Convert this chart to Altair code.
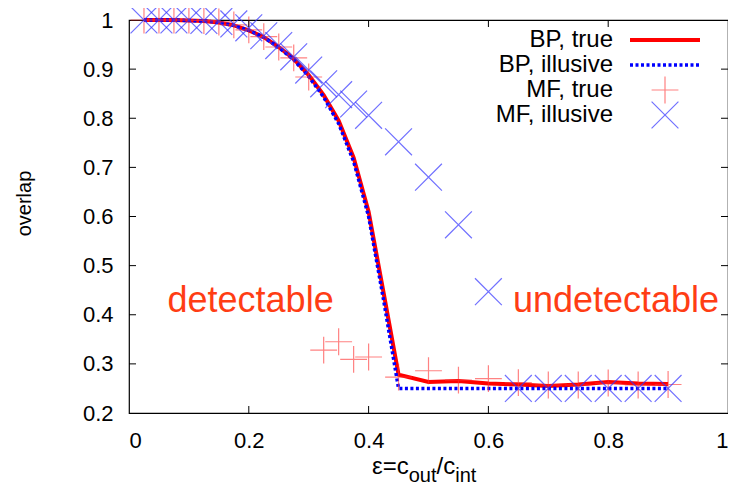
import altair as alt
import pandas as pd

# ---- data ----
bp_eps = [0.025, 0.05, 0.075, 0.1, 0.125, 0.15, 0.175, 0.2, 0.225, 0.25, 0.275, 0.3,
          0.325, 0.35, 0.375, 0.4, 0.425, 0.45, 0.5, 0.55, 0.6, 0.65, 0.7, 0.75,
          0.8, 0.85, 0.9]
bp_true = [1.0, 1.0, 1.0, 0.999, 0.998, 0.995, 0.989, 0.979, 0.965, 0.945, 0.921, 0.888,
           0.847, 0.795, 0.72, 0.61, 0.445, 0.278, 0.263, 0.265, 0.26, 0.258, 0.255, 0.258,
           0.263, 0.26, 0.259]
bp_illusive = [1.0, 1.0, 1.0, 0.999, 0.998, 0.995, 0.989, 0.979, 0.965, 0.944, 0.919, 0.885,
               0.843, 0.789, 0.712, 0.60, 0.43, 0.25, 0.25, 0.25, 0.25, 0.25, 0.25, 0.25,
               0.25, 0.25, 0.25]

mf_true_eps = [0.025, 0.05, 0.075, 0.1, 0.125, 0.15, 0.175, 0.2, 0.225, 0.25, 0.275, 0.3,
               0.325, 0.35, 0.375, 0.4, 0.45, 0.5, 0.55, 0.6, 0.65, 0.7, 0.75, 0.8, 0.85, 0.9]
mf_true = [1.0, 1.0, 1.0, 1.0, 0.999, 0.996, 0.99, 0.98, 0.966, 0.945, 0.923, 0.884,
           0.328, 0.345, 0.309, 0.314, 0.273, 0.286, 0.267, 0.27, 0.262, 0.257, 0.257,
           0.261, 0.257, 0.258]

mf_ill_eps = [0.025, 0.05, 0.075, 0.1, 0.125, 0.15, 0.175, 0.2, 0.225, 0.25, 0.275, 0.3,
              0.325, 0.35, 0.375, 0.4, 0.45, 0.5, 0.55, 0.6, 0.65, 0.7, 0.75, 0.8, 0.85, 0.9]
mf_illusive = [1.0, 1.0, 1.0, 1.0, 0.999, 0.997, 0.992, 0.984, 0.968, 0.948, 0.925, 0.898,
               0.870, 0.848, 0.829, 0.806, 0.752, 0.68, 0.583, 0.447, 0.25, 0.25, 0.25,
               0.25, 0.25, 0.25]

x_ticks = [0, 0.2, 0.4, 0.6, 0.8, 1]
y_ticks = [0.2, 0.3, 0.4, 0.5, 0.6, 0.7, 0.8, 0.9, 1]
x_inner = [0.2, 0.4, 0.6, 0.8]
y_inner = [0.3, 0.4, 0.5, 0.6, 0.7, 0.8, 0.9]

legend_labels = ["BP, true", "BP, illusive", "MF, true", "MF, illusive"]
region_labels = ["detectable", "undetectable"]
region_x = [0.203, 0.813]
region_y = [0.406, 0.406]

# x-axis title pieces: (text, is_subscript)
xtitle_parts = [("ε=c", False), ("out", True), ("/c", False), ("int", True)]

W, H = 599, 393
FONT = "Liberation Sans"
PLUS = "M-1,0L1,0M0,-1L0,1"
CROSS = "M-1,-1L1,1M-1,1L1,-1"
RED = "#ff0000"
BLUE = "#0000ff"
MRED = "#ff3030"
MBLUE = "#3535ff"

xs = alt.Scale(domain=[0, 1], nice=False, zero=False)
ys = alt.Scale(domain=[0.2, 1], nice=False, zero=False)

xaxis = alt.Axis(values=x_ticks, format=".1~f", ticks=False, domain=False, grid=False,
                 labelFont=FONT, labelFontSize=22, labelColor="black", labelPadding=17,
                 title="")
yaxis = alt.Axis(values=y_ticks, format=".1~f", ticks=False, domain=False, grid=False,
                 labelFont=FONT, labelFontSize=22, labelColor="black", labelPadding=16,
                 title="overlap", titleFont=FONT, titleFontSize=20,
                 titleFontWeight="normal", titleColor="black", titleX=-95, titleY=183)

df_bp = pd.DataFrame({"eps": bp_eps, "t": bp_true, "i": bp_illusive})
df_mft = pd.DataFrame({"eps": mf_true_eps, "v": mf_true})
df_mfi = pd.DataFrame({"eps": mf_ill_eps, "v": mf_illusive})

line_true = alt.Chart(df_bp).mark_line(color=RED, strokeWidth=4).encode(
    x=alt.X("eps:Q", scale=xs, axis=xaxis),
    y=alt.Y("t:Q", scale=ys, axis=yaxis))
line_ill = alt.Chart(df_bp).mark_line(color=BLUE, strokeWidth=3.5, strokeDash=[3, 2.5]).encode(
    x=alt.X("eps:Q", scale=xs), y=alt.Y("i:Q", scale=ys))
pts_true = alt.Chart(df_mft).mark_point(shape=PLUS, size=720, filled=False, color=MRED,
                                        strokeWidth=1.2, opacity=0.6).encode(
    x=alt.X("eps:Q", scale=xs), y=alt.Y("v:Q", scale=ys))
pts_ill = alt.Chart(df_mfi).mark_point(shape=CROSS, size=720, filled=False, color=MBLUE,
                                       strokeWidth=1.2, opacity=0.7).encode(
    x=alt.X("eps:Q", scale=xs), y=alt.Y("v:Q", scale=ys))

# inner ticks (gnuplot style, mirrored)
dxt = pd.DataFrame({"v": x_inner})
dyt = pd.DataFrame({"v": y_inner})
tick_b = alt.Chart(dxt).mark_rule(color="black", strokeWidth=1).encode(
    x=alt.X("v:Q", scale=xs), y=alt.value(H), y2=alt.value(H - 7))
tick_t = alt.Chart(dxt).mark_rule(color="black", strokeWidth=1).encode(
    x=alt.X("v:Q", scale=xs), y=alt.value(0), y2=alt.value(7))
tick_l = alt.Chart(dyt).mark_rule(color="black", strokeWidth=1).encode(
    y=alt.Y("v:Q", scale=ys), x=alt.value(0), x2=alt.value(7))
tick_r = alt.Chart(dyt).mark_rule(color="black", strokeWidth=1).encode(
    y=alt.Y("v:Q", scale=ys), x=alt.value(W), x2=alt.value(W - 7))

# region annotations
df_reg = pd.DataFrame({"x": region_x, "y": region_y, "t": region_labels})
reg_text = alt.Chart(df_reg).mark_text(font=FONT, fontSize=36, color="#ff3d14",
                                       align="center", baseline="alphabetic").encode(
    x=alt.X("x:Q", scale=xs), y=alt.Y("y:Q", scale=ys), text="t:N")

# x-axis title with subscripts, built from text pieces
xt_layers = []
xpos = 243.0
MAIN_FS, SUB_FS = 24, 20
widths = {"ε=c": 0.446 + 0.584 + 0.5, "out": 0.556 + 0.556 + 0.278,
          "/c": 0.278 + 0.5, "int": 0.222 + 0.556 + 0.278}
for txt, sub in xtitle_parts:
    fs = SUB_FS if sub else MAIN_FS
    yy = H + 69 if sub else H + 61
    xt_layers.append(alt.Chart(pd.DataFrame({"t": [txt]})).mark_text(
        font=FONT, fontSize=fs, color="black", align="left", baseline="alphabetic").encode(
        text="t:N", x=alt.value(xpos), y=alt.value(yy)))
    xpos += widths[txt] * fs

# legend (top right, inside)
leg_rows = [20, 45, 70, 95]
leg_t = []
for lab, yy in zip(legend_labels, leg_rows):
    leg_t.append(alt.Chart(pd.DataFrame({"t": [lab]})).mark_text(
        font=FONT, fontSize=24, color="black", align="right", baseline="middle").encode(
        text="t:N", x=alt.value(484), y=alt.value(yy)))
leg_l1 = alt.Chart(pd.DataFrame({"a": [0]})).mark_rule(color=RED, strokeWidth=4).encode(
    x=alt.value(501), x2=alt.value(571), y=alt.value(leg_rows[0]))
leg_l2 = alt.Chart(pd.DataFrame({"a": [0]})).mark_rule(
    color=BLUE, strokeWidth=3.5, strokeDash=[3, 2.5]).encode(
    x=alt.value(501), x2=alt.value(571), y=alt.value(leg_rows[1]))
leg_p1 = alt.Chart(pd.DataFrame({"a": [0]})).mark_point(
    shape=PLUS, size=720, filled=False, color=MRED, strokeWidth=1.2, opacity=0.6).encode(
    x=alt.value(536), y=alt.value(leg_rows[2]))
leg_p2 = alt.Chart(pd.DataFrame({"a": [0]})).mark_point(
    shape=CROSS, size=720, filled=False, color=MBLUE, strokeWidth=1.2, opacity=0.7).encode(
    x=alt.value(536), y=alt.value(leg_rows[3]))

chart = alt.layer(
    line_true, line_ill, pts_true, pts_ill,
    tick_b, tick_t, tick_l, tick_r, reg_text,
    *xt_layers, *leg_t, leg_l1, leg_l2, leg_p1, leg_p2,
).properties(
    width=W, height=H,
    autosize=alt.AutoSizeParams(type="none"),
    padding={"left": 121, "top": 12, "right": 0, "bottom": 74},
    background="white",
).configure_view(stroke="black", strokeWidth=1.2)

chart.save("out.html", embed_options={"renderer": "svg", "actions": False})
